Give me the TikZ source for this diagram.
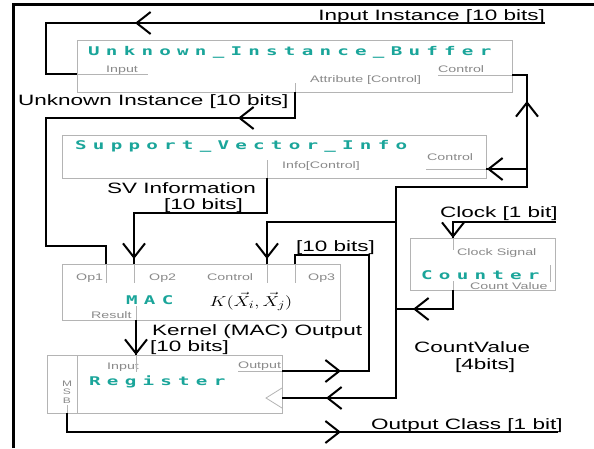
\documentclass[tikz,border=0pt]{standalone}
\usepackage{fontspec}
\usepackage{graphicx}
\usetikzlibrary{arrows.meta}
\newfontfamily\labfont[FakeStretch=1.5]{Liberation Sans}
\newfontfamily\titfont[FakeStretch=1.6,LetterSpace=52]{DejaVu Sans Mono}
\definecolor{tealc}{HTML}{1AA59A}
\definecolor{portgray}{HTML}{8A8A8A}
\definecolor{boxgray}{HTML}{B4B4B4}
\tikzset{
  wire/.style={line width=2pt, black, line join=miter},
  gwire/.style={line width=0.8pt, boxgray},
  box/.style={draw=boxgray, line width=0.9pt, inner sep=0pt, outer sep=0pt, anchor=north west},
  barb/.style={line width=2pt, black, -{Straight Barb[length=14pt,width=22pt]}},
  lab/.style={font=\labfont\fontsize{15}{18}\selectfont, inner sep=0pt},
  sm/.style={font=\labfont\fontsize{9.5}{11}\selectfont, text=portgray, inner sep=0pt},
  tit/.style={font=\titfont\bfseries\fontsize{12}{14}\selectfont, text=tealc, inner sep=0pt, anchor=base west},
}
\begin{document}
\begin{tikzpicture}[x=1pt,y=-1pt]
\useasboundingbox (0,0) rectangle (594,448);
\fill[white] (0,0) rectangle (594,448);
% frame
\coordinate (fr1) at (13,448); \coordinate (fr2) at (13,4); \coordinate (fr3) at (594,4);
\draw[line width=3pt] (fr1) -- (fr2) -- (fr3);

% boxes
\node[box, minimum width=435pt, minimum height=52pt] (uib) at (77,40) {};
\node[box, minimum width=424pt, minimum height=43pt] (svi) at (62,135) {};
\node[box, minimum width=278pt, minimum height=56pt] (mac) at (62,264) {};
\node[box, minimum width=145pt, minimum height=52pt] (cnt) at (410,238) {};
\node[box, minimum width=235pt, minimum height=58pt] (reg) at (47,355) {};
\coordinate (regd1) at (77,355); \coordinate (regd2) at (77,413);
\draw[gwire] (regd1) -- (regd2);

% titles
\node[tit] (tuib) at (88,55) {Unknown\_Instance\_Buffer};
\node[tit] (tsvi) at (75,149) {Support\_Vector\_Info};
\node[tit] (tmac) at (126,304) {MAC};
\node[tit] (tcnt) at (421,279) {Counter};
\node[tit] (treg) at (89,385) {Register};
\node[inner sep=0pt, anchor=base] (kern) at (251,306) {\scalebox{1.3}[1]{\fontsize{15}{17}\selectfont$K(\vec{X}_i,\vec{X}_j)$}};

% small port labels
\node[sm, anchor=base west] (pin) at (106,72) {Input};
\node[sm, anchor=base west] (pctl) at (438,72) {Control};
\node[sm, anchor=base west] (pattr) at (310,82) {Attribute [Control]};
\node[sm, anchor=base west] (sctl) at (427,160) {Control};
\node[sm, anchor=base west] (sinfo) at (282,168) {Info[Control]};
\node[sm, anchor=base west] (op1) at (76,280) {Op1};
\node[sm, anchor=base west] (op2) at (149,280) {Op2};
\node[sm, anchor=base west] (mctl) at (207,280) {Control};
\node[sm, anchor=base west] (op3) at (308,280) {Op3};
\node[sm, anchor=base west] (res) at (91,318) {Result};
\node[sm, anchor=base west] (csig) at (457,255) {Clock Signal};
\node[sm, anchor=base west] (cval) at (470,289) {Count Value};
\node[sm, anchor=base west] (rin) at (107,369) {Input};
\node[sm, anchor=base west] (rout) at (238,368) {Output};
\node[sm, font=\labfont\fontsize{8}{8.5}\selectfont, align=center] (msb) at (67,392) {M\\S\\B};

% big labels
\node[lab, anchor=base east] (lin) at (545,20) {Input Instance [10 bits]};
\node[lab, anchor=base west] (lunk) at (18,105) {Unknown Instance [10 bits]};
\node[lab, anchor=base west] (lsv) at (107,193) {SV Information};
\node[lab, anchor=base west] (lsvb) at (164,209) {[10 bits]};
\node[lab, anchor=base west] (lclk) at (440,217) {Clock [1 bit]};
\node[lab, anchor=base west] (lop3) at (296,251) {[10 bits]};
\node[lab, anchor=base west] (lker) at (152,335) {Kernel (MAC) Output};
\node[lab, anchor=base west] (lkerb) at (150,351) {[10 bits]};
\node[lab, anchor=base west] (lcv) at (414,352) {CountValue};
\node[lab, anchor=base west] (lcvb) at (455,369) {[4bits]};
\node[lab, anchor=base west] (lout) at (371,429) {Output Class [1 bit]};

% ---- coordinates
\coordinate (a1) at (545,23); \coordinate (a2) at (46,23); \coordinate (a3) at (46,74);
\coordinate (a4) at (77,74); \coordinate (a5) at (148,74);
\coordinate (b0) at (438,75); \coordinate (b1) at (512,75); \coordinate (b2) at (527,75);
\coordinate (b3) at (527,187); \coordinate (b4) at (396,187); \coordinate (b5) at (396,398);
\coordinate (b6) at (282,398);
\coordinate (c1) at (527,169); \coordinate (c2) at (486,169); \coordinate (c0) at (426,169);
\coordinate (d1) at (396,222); \coordinate (d2) at (267,222); \coordinate (d3) at (267,264); \coordinate (d4) at (267,283);
\coordinate (e0) at (295,83); \coordinate (e1) at (295,92); \coordinate (e2) at (295,118);
\coordinate (e3) at (46,118); \coordinate (e4) at (46,246); \coordinate (e5) at (106,246);
\coordinate (e6) at (106,264); \coordinate (e7) at (106,283);
\coordinate (f0) at (267,160); \coordinate (f1) at (267,178); \coordinate (f2) at (267,213);
\coordinate (f3) at (134,213); \coordinate (f4) at (134,264); \coordinate (f5) at (134,283);
\coordinate (g0) at (295,283); \coordinate (g1) at (295,264); \coordinate (g2) at (295,255);
\coordinate (g3) at (369,255); \coordinate (g4) at (369,371); \coordinate (g5) at (282,371); \coordinate (g6) at (238,371);
\coordinate (h1) at (556,222); \coordinate (h2) at (453,222); \coordinate (h3) at (453,238); \coordinate (h4) at (453,250);
\coordinate (i0) at (453,281); \coordinate (i1) at (453,290); \coordinate (i2) at (453,309); \coordinate (i3) at (396,309);
\coordinate (j0) at (136,306); \coordinate (j1) at (136,320); \coordinate (j2) at (136,355); \coordinate (j3) at (136,372);
\coordinate (k0) at (67,405); \coordinate (k1) at (67,413); \coordinate (k2) at (67,432); \coordinate (k3) at (558,432);
\coordinate (t1) at (282,388); \coordinate (t2) at (266,398); \coordinate (t3) at (282,408);
\coordinate (s1) at (550,265); \coordinate (s2) at (550,282);

% gray port stubs
\draw[gwire] (a4) -- (a5);
\draw[gwire] (b0) -- (b1);
\draw[gwire] (c0) -- (c2);
\draw[gwire] (d3) -- (d4);
\draw[gwire] (e0) -- (e1);
\draw[gwire] (e6) -- (e7);
\draw[gwire] (f0) -- (f1);
\draw[gwire] (f4) -- (f5);
\draw[gwire] (g1) -- (g0);
\draw[gwire] (g6) -- (g5);
\draw[gwire] (h3) -- (h4);
\draw[gwire] (i0) -- (i1);
\draw[gwire] (j0) -- (j1);
\draw[gwire] (j2) -- (j3);
\draw[gwire] (k0) -- (k1);
\draw[gwire] (t1) -- (t2) -- (t3);
\draw[gwire] (s1) -- (s2);

% black wires
\draw[wire] (a1) -- (a2) -- (a3) -- (a4);
\draw[wire] (b1) -- (b2) -- (b3) -- (b4) -- (b5) -- (b6);
\draw[wire] (c1) -- (c2);
\draw[wire] (d1) -- (d2) -- (d3);
\draw[wire] (e1) -- (e2) -- (e3) -- (e4) -- (e5) -- (e6);
\draw[wire] (f1) -- (f2) -- (f3) -- (f4);
\draw[wire] (g1) -- (g2) -- (g3) -- (g4) -- (g5);
\draw[wire] (h1) -- (h2) -- (h3);
\draw[wire] (i1) -- (i2) -- (i3);
\draw[wire] (j1) -- (j2);
\draw[wire] (k1) -- (k2) -- (k3);

% arrowheads
\coordinate (ar1) at (135,23);  \draw[barb] (ar1) ++(10,0) -- (ar1);
\coordinate (ar2) at (527,101); \draw[barb] (ar2) ++(0,10) -- (ar2);
\coordinate (ar3) at (238,118); \draw[barb] (ar3) ++(10,0) -- (ar3);
\coordinate (ar4) at (487,169); \draw[barb] (ar4) ++(10,0) -- (ar4);
\coordinate (ar5) at (134,259); \draw[barb] (ar5) ++(0,-10) -- (ar5);
\coordinate (ar6) at (267,259); \draw[barb] (ar6) ++(0,-10) -- (ar6);
\coordinate (ar7) at (453,238); \draw[barb] (ar7) ++(0,-10) -- (ar7);
\coordinate (ar8) at (413,309); \draw[barb] (ar8) ++(10,0) -- (ar8);
\coordinate (ar9) at (136,355); \draw[barb] (ar9) ++(0,-10) -- (ar9);
\coordinate (ar10) at (341,371); \draw[barb] (ar10) ++(-10,0) -- (ar10);
\coordinate (ar11) at (326,398); \draw[barb] (ar11) ++(10,0) -- (ar11);
\coordinate (ar12) at (341,432); \draw[barb] (ar12) ++(-10,0) -- (ar12);
\end{tikzpicture}
\end{document}
